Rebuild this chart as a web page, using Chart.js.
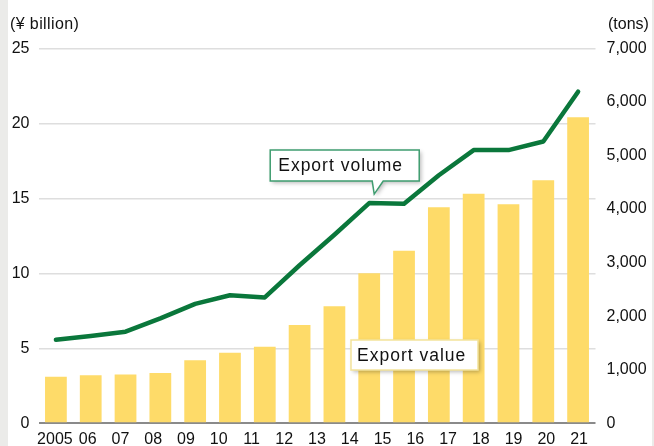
<!DOCTYPE html>
<html>
<head>
<meta charset="utf-8">
<script src="https://cdn.jsdelivr.net/npm/chart.js@4"></script>
<style>
  html, body { margin: 0; padding: 0; background: #fff; }
  #wrap { position: relative; width: 654px; height: 446px; }
</style>
</head>
<body>
<div id="wrap"><canvas id="exportChart"></canvas></div>
<script>
// tick labels printed under the chart (17 of them, as in the source)
const tickLabels = ["2005", "06", "07", "08", "09", "10", "11", "12", "13", "14", "15", "16", "17", "18", "19", "20", "21"];
// plotted periods (16 bars / line points)
const periods = ["2006", "2007", "2008", "2009", "2010", "2011", "2012", "2013", "2014", "2015", "2016", "2017", "2018", "2019", "2020", "2021"];
// export value, ¥ billion (left axis)
const exportValue = [3.1, 3.2, 3.25, 3.35, 4.2, 4.7, 5.1, 6.55, 7.8, 10.0, 11.5, 14.4, 15.3, 14.6, 16.2, 20.4];
// export volume, tons (right axis)
const exportVolume = [1560, 1630, 1710, 1960, 2230, 2390, 2350, 2950, 3520, 4110, 4100, 4630, 5100, 5100, 5260, 6190];
const leftTicks = [0, 5, 10, 15, 20, 25];
const rightTicks = [0, 1000, 2000, 3000, 4000, 5000, 6000, 7000];

const FONT = "'Liberation Sans', Arial, Helvetica, sans-serif";
const TEXT = "#111";
const GREEN = "#0a773b";
const YELLOW = "#fedb69";

const decor = {
  id: "decor",
  beforeDraw(chart) {
    const ctx = chart.ctx;
    ctx.save();
    ctx.fillStyle = "#fff";
    ctx.fillRect(0, 0, chart.width, chart.height);
    ctx.fillStyle = "#ebebe9";
    ctx.fillRect(0, 0, 8, chart.height);
    ctx.fillRect(652, 0, 2, chart.height);
    ctx.restore();
  },
  afterDatasetsDraw(chart) {
    const ctx = chart.ctx;
    const xs = chart.scales.x;
    const y2 = chart.scales.y2;
    ctx.save();

    // "Export volume" callout, tail pointing at the 10th line point
    const tipX = xs.getPixelForValue(9) + 5;
    const tipY = y2.getPixelForValue(exportVolume[9]) - 9;
    const bx = tipX - 104, by = tipY - 44, bw = 149, bh = 31;
    ctx.shadowColor = "rgba(0,0,0,0.28)";
    ctx.shadowBlur = 4;
    ctx.shadowOffsetX = 2;
    ctx.shadowOffsetY = 2;
    ctx.fillStyle = "#fff";
    ctx.beginPath();
    ctx.moveTo(bx, by);
    ctx.lineTo(bx + bw, by);
    ctx.lineTo(bx + bw, by + bh);
    ctx.lineTo(tipX + 9, by + bh);
    ctx.lineTo(tipX, tipY);
    ctx.lineTo(tipX - 2, by + bh);
    ctx.lineTo(bx, by + bh);
    ctx.closePath();
    ctx.fill();
    ctx.shadowColor = "transparent";
    ctx.strokeStyle = "#3f9d70";
    ctx.lineWidth = 1.5;
    ctx.stroke();
    ctx.fillStyle = TEXT;
    ctx.font = "17.5px " + FONT;
    ctx.letterSpacing = "1px";
    ctx.textBaseline = "middle";
    ctx.textAlign = "left";
    ctx.fillText("Export volume", bx + 8, by + bh / 2 + 1);

    // "Export value" callout
    const vx = 351, vy = 340, vw = 127, vh = 30;
    ctx.shadowColor = "rgba(0,0,0,0.28)";
    ctx.shadowBlur = 4;
    ctx.shadowOffsetX = 2;
    ctx.shadowOffsetY = 2;
    ctx.fillStyle = "#fff";
    ctx.beginPath();
    ctx.rect(vx, vy, vw, vh);
    ctx.fill();
    ctx.shadowColor = "transparent";
    ctx.strokeStyle = "#f3e39a";
    ctx.lineWidth = 1.5;
    ctx.stroke();
    ctx.fillStyle = TEXT;
    ctx.fillText("Export value", vx + 6, vy + vh / 2 + 1);
    ctx.restore();
  },
  afterDraw(chart) {
    const ctx = chart.ctx;
    ctx.save();
    ctx.fillStyle = TEXT;
    ctx.font = "16px " + FONT;
    ctx.letterSpacing = "0.4px";
    ctx.textBaseline = "middle";
    ctx.textAlign = "left";
    ctx.fillText("(\u00A5 billion)", 10, 25);
    ctx.letterSpacing = "0px";
    ctx.fillText("(tons)", 608, 25);
    ctx.restore();
  },
};

const ctx = document.getElementById("exportChart").getContext("2d");
new Chart(ctx, {
  type: "bar",
  data: {
    labels: periods,
    datasets: [
      {
        type: "line",
        label: "Export volume",
        data: exportVolume,
        yAxisID: "y2",
        xAxisID: "x",
        borderColor: GREEN,
        borderWidth: 4.5,
        pointRadius: 0,
        tension: 0,
        borderCapStyle: "round",
        borderJoinStyle: "round",
        order: 0,
      },
      {
        label: "Export value",
        data: exportValue,
        yAxisID: "y",
        xAxisID: "x",
        backgroundColor: YELLOW,
        categoryPercentage: 1,
        barPercentage: 0.625,
        order: 1,
      },
    ],
  },
  options: {
    responsive: true,
    maintainAspectRatio: false,
    animation: false,
    layout: { padding: { top: 48.3, left: 0, right: 0, bottom: 0 } },
    plugins: {
      legend: { display: false },
      tooltip: { enabled: false },
    },
    scales: {
      x: { display: false, offset: true },
      x2: {
        type: "category",
        labels: tickLabels,
        position: "bottom",
        offset: true,
        border: { display: false },
        grid: { display: false, drawTicks: false },
        ticks: {
          autoSkip: false,
          maxRotation: 0,
          padding: 7,
          color: TEXT,
          font: { family: FONT, size: 16 },
        },
        afterFit: (s) => { s.height = 22.7; },
      },
      y: {
        position: "left",
        min: leftTicks[0],
        max: leftTicks[leftTicks.length - 1],
        border: { display: false },
        grid: {
          drawTicks: false,
          color: (c) => (c.tick && c.tick.value === 0 ? "#8a8a8a" : "#dedede"),
          lineWidth: (c) => (c.tick && c.tick.value === 0 ? 2 : 1.5),
        },
        afterBuildTicks: (s) => { s.ticks = leftTicks.map((v) => ({ value: v })); },
        ticks: {
          padding: 9,
          color: TEXT,
          font: { family: FONT, size: 16 },
        },
        afterFit: (s) => { s.width = 38.5; },
      },
      y2: {
        position: "right",
        min: rightTicks[0],
        max: rightTicks[rightTicks.length - 1],
        border: { display: false },
        grid: { display: false, drawTicks: false },
        afterBuildTicks: (s) => { s.ticks = rightTicks.map((v) => ({ value: v })); },
        ticks: {
          padding: 11,
          color: TEXT,
          font: { family: FONT, size: 16 },
          callback: (v) => v.toLocaleString("en-US"),
        },
        afterFit: (s) => { s.width = 58.5; },
      },
    },
  },
  plugins: [decor],
});
</script>
</body>
</html>
